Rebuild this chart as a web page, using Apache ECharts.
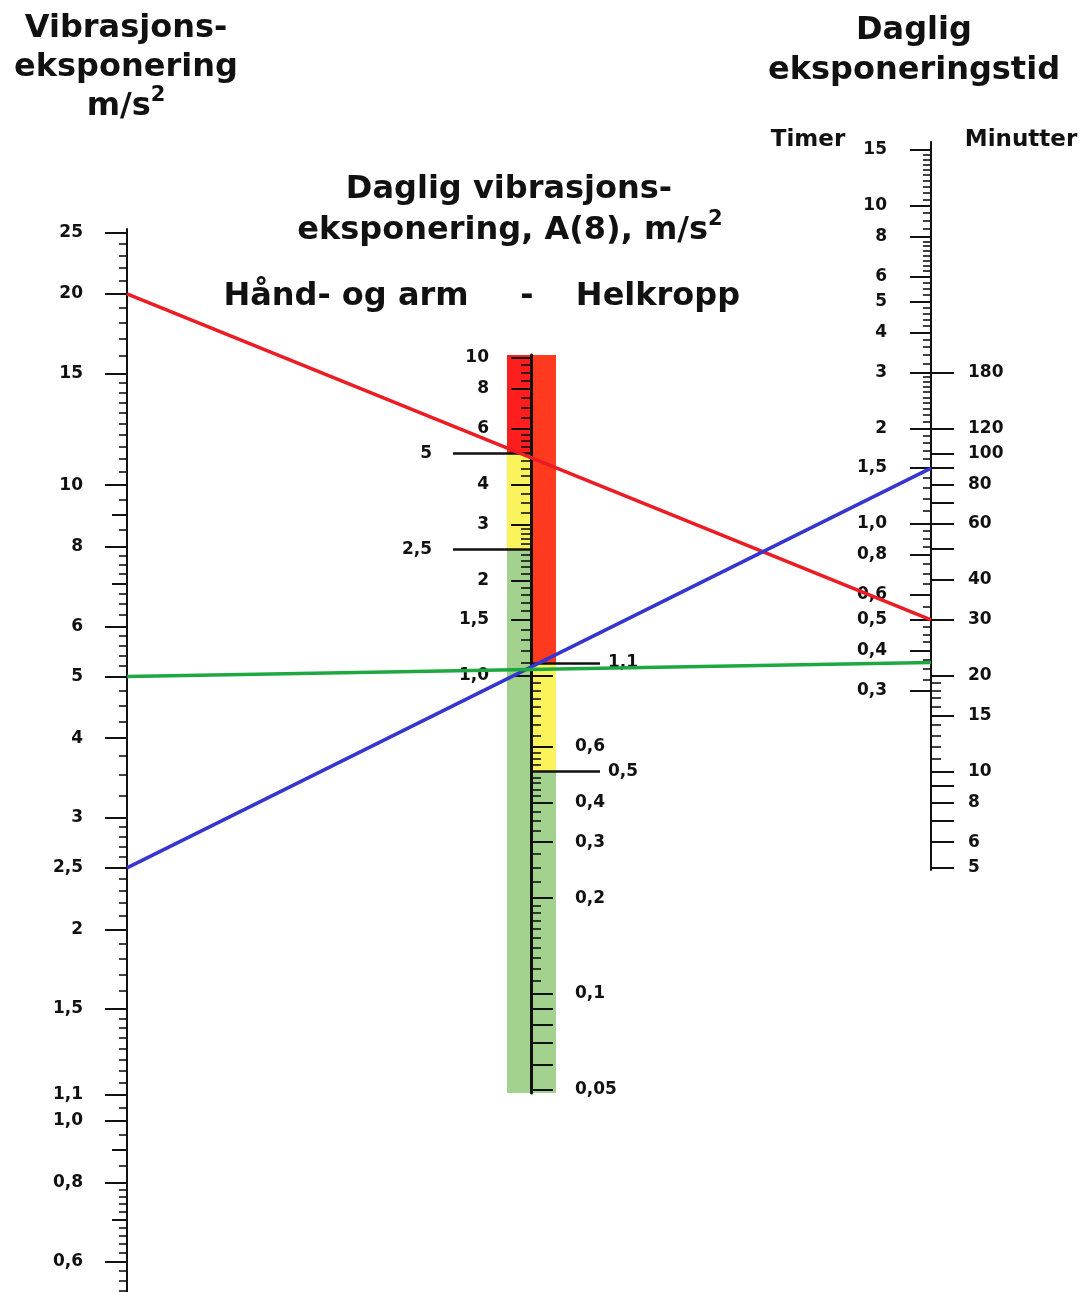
<!DOCTYPE html>
<html>
<head>
<meta charset="utf-8">
<title>Nomogram - vibrasjonseksponering</title>
<script src="https://cdn.jsdelivr.net/npm/echarts@6.0.0/dist/echarts.min.js"></script>
<style>
	html, body { margin: 0; padding: 0; background: #fff; }
	#main { width: 1081px; height: 1292px; }
</style>
</head>
<body>
<div id="main"></div>
<script>
// venstre skala: vibrasjonseksponering, m/s2
var leftTicks = [25, 20, 15, 10, 8, 6, 5, 4, 3, 2.5, 2, 1.5, 1.1, 1.0, 0.8, 0.6];
var leftLabels = ['25', '20', '15', '10', '8', '6', '5', '4', '3', '2,5', '2', '1,5', '1,1', '1,0', '0,8', '0,6'];
var leftMid = [9, 7, 0.9, 0.7];
var leftMinor = [24, 23, 22, 21, 19, 18, 17, 16, 14.5, 14, 13.5, 13, 12.5, 12, 11.5, 11, 10.5, 9.5, 8.5,
	7.75, 7.5, 7.25, 6.75, 6.5, 6.25, 5.8, 5.6, 5.4, 5.2, 4.75, 4.5, 4.25, 3.75, 3.5, 3.25,
	2.9, 2.8, 2.7, 2.6, 2.4, 2.3, 2.2, 2.1, 1.9, 1.8, 1.7, 1.6, 1.45, 1.4, 1.35, 1.3, 1.25, 1.2, 1.15,
	1.05, 0.95, 0.85, 0.78, 0.76, 0.74, 0.72, 0.68, 0.66, 0.64, 0.62, 0.58, 0.56, 0.54];
var leftRange = [0.538, 25.3];

// midtre skala: daglig vibrasjonseksponering A(8)
var midLeftTicks = [10, 8, 6, 4, 3, 2, 1.5, 1.0];
var midLeftLabels = ['10', '8', '6', '4', '3', '2', '1,5', '1,0'];
var midLeftLong = [5, 2.5];
var midLeftLongLabels = ['5', '2,5'];
var midLeftMinor = [9.5, 9, 8.5, 7.5, 7, 6.5, 5.75, 5.5, 5.25, 4.75, 4.5, 4.25, 3.75, 3.5, 3.25,
	2.9, 2.8, 2.7, 2.6, 2.4, 2.3, 2.2, 2.1, 1.9, 1.8, 1.7, 1.6, 1.4, 1.3, 1.2, 1.1, 1.05];
var midRightTicks = [1.0, 0.6, 0.4, 0.3, 0.2, 0.1, 0.09, 0.08, 0.07, 0.06, 0.05];
var midRightLabelValues = [0.6, 0.4, 0.3, 0.2, 0.1, 0.05];
var midRightLabels = ['0,6', '0,4', '0,3', '0,2', '0,1', '0,05'];
var midRightLong = [1.1, 0.5];
var midRightLongLabels = ['1,1', '0,5'];
var midRightMinor = [1.05, 0.95, 0.9, 0.85, 0.8, 0.75, 0.7, 0.65, 0.575, 0.55, 0.525, 0.48, 0.46, 0.44, 0.42,
	0.375, 0.35, 0.325, 0.275, 0.25, 0.225, 0.19, 0.18, 0.17, 0.16, 0.15, 0.14, 0.13, 0.12, 0.11];
var midRange = [0.0488, 10.22];

// tiltaksverdi og grenseverdi
var handArmLimits = [2.5, 5];
var wholeBodyLimits = [0.5, 1.1];

// høyre skala: daglig eksponeringstid
var hourTicks = [15, 10, 8, 6, 5, 4, 3, 2, 1.5, 1.0, 0.8, 0.6, 0.5, 0.4, 0.3];
var hourLabels = ['15', '10', '8', '6', '5', '4', '3', '2', '1,5', '1,0', '0,8', '0,6', '0,5', '0,4', '0,3'];
var hourMinor = [14.5, 14, 13.5, 13, 12.5, 12, 11.5, 11, 10.5, 9.5, 9, 8.5, 7.75, 7.5, 7.25, 7, 6.75, 6.5, 6.25,
	5.75, 5.5, 5.25, 4.8, 4.6, 4.4, 4.2, 3.8, 3.6, 3.4, 3.2, 2.9, 2.8, 2.7, 2.6, 2.5, 2.4, 2.3, 2.2, 2.1,
	1.9, 1.8, 1.7, 1.6, 1.4, 1.3, 1.2, 1.1, 0.95, 0.9, 0.85, 0.75, 0.7, 0.65, 0.55, 0.475, 0.45, 0.425,
	0.375, 0.35, 0.325];
var minuteTicks = [180, 120, 100, 90, 80, 70, 60, 50, 40, 30, 20, 15, 10, 9, 8, 7, 6, 5];
var minuteLabelValues = [180, 120, 100, 80, 60, 40, 30, 20, 15, 10, 8, 6, 5];
var minuteMinor = [19, 18, 17, 16, 14, 13, 12, 11];
var hourRange = [0.0817, 15.9];

// eksempellinjer: m/s2 på venstre skala -> timer på høyre skala
var lineStart = [20, 2.5, 5];
var lineEnd = [0.5, 1.5, 0.367];

var INK = '#111';
var LINE_COLORS = ['#ec1c24', '#3535cf', '#1ea842'];
var BAND_COLORS = [
	['#a3d28f', '#fbf35c', '#ff1e1e'],
	['#a3d28f', '#fbf35c', '#ff3a1f']
];
var lg = Math.log10;

function labelFor(values, labels) {
	return function (val) {
		for (var i = 0; i < values.length; i++) {
			if (Math.abs(lg(values[i]) - val) < 1e-6) return labels[i];
		}
		return '';
	};
}

function scaleAxis(o) {
	var axis = {
		type: 'value',
		gridIndex: o.grid,
		position: o.pos,
		min: lg(o.range[0]),
		max: lg(o.range[1]),
		z: 3,
		axisLine: { show: !!o.line, onZero: false, lineStyle: { color: INK, width: o.line || 2 } },
		axisTick: {
			show: true, inside: false, length: o.len,
			customValues: o.ticks.map(lg),
			lineStyle: { color: INK, width: o.w || 2 }
		},
		axisLabel: { show: false },
		splitLine: { show: false }
	};
	if (o.labels) {
		axis.axisLabel = {
			show: true,
			margin: o.margin,
			customValues: o.labelValues.map(lg),
			formatter: labelFor(o.labelValues, o.labels),
			color: INK,
			fontFamily: 'DejaVu Sans',
			fontWeight: 'bold',
			fontSize: 17
		};
	}
	return axis;
}

var toHours = function (m) { return m / 60; };

var yAxes = [
	// venstre skala (grid 0)
	scaleAxis({ grid: 0, pos: 'left', range: leftRange, ticks: leftTicks, len: 22, line: 2,
		labelValues: leftTicks, labels: leftLabels, margin: 44 }),
	scaleAxis({ grid: 0, pos: 'left', range: leftRange, ticks: leftMid, len: 15 }),
	scaleAxis({ grid: 0, pos: 'left', range: leftRange, ticks: leftMinor, len: 8, w: 1.6 }),
	// midtre skala (grid 1)
	scaleAxis({ grid: 1, pos: 'left', range: midRange, ticks: midLeftTicks, len: 20, line: 3,
		labelValues: midLeftTicks, labels: midLeftLabels, margin: 42 }),
	scaleAxis({ grid: 1, pos: 'left', range: midRange, ticks: midLeftLong, len: 78, w: 2.5,
		labelValues: midLeftLong, labels: midLeftLongLabels, margin: 99 }),
	scaleAxis({ grid: 1, pos: 'left', range: midRange, ticks: midLeftMinor, len: 10, w: 1.6 }),
	scaleAxis({ grid: 1, pos: 'right', range: midRange, ticks: midRightTicks, len: 21,
		labelValues: midRightLabelValues, labels: midRightLabels, margin: 43 }),
	scaleAxis({ grid: 1, pos: 'right', range: midRange, ticks: midRightLong, len: 68, w: 2.5,
		labelValues: midRightLong, labels: midRightLongLabels, margin: 76 }),
	scaleAxis({ grid: 1, pos: 'right', range: midRange, ticks: midRightMinor, len: 9, w: 1.6 }),
	// høyre skala (grid 2)
	scaleAxis({ grid: 2, pos: 'left', range: hourRange, ticks: hourTicks, len: 21, line: 2,
		labelValues: hourTicks, labels: hourLabels, margin: 44 }),
	scaleAxis({ grid: 2, pos: 'left', range: hourRange, ticks: hourMinor, len: 8, w: 1.6 }),
	scaleAxis({ grid: 2, pos: 'right', range: hourRange, ticks: minuteTicks.map(toHours), len: 22,
		labelValues: minuteLabelValues.map(toHours), labels: minuteLabelValues.map(String), margin: 36 }),
	scaleAxis({ grid: 2, pos: 'right', range: hourRange, ticks: minuteMinor.map(toHours), len: 9, w: 1.6 }),
	// fargefelt (grid 3)
	{ type: 'value', gridIndex: 3, min: lg(midRange[0]), max: lg(midRange[1]), show: false }
];
var BAND_Y = yAxes.length - 1;

function bandsFor(side, limits) {
	return [
		[side, lg(midRange[0]), lg(limits[0]), 0],
		[side, lg(limits[0]), lg(limits[1]), 1],
		[side, lg(limits[1]), lg(midRange[1]), 2]
	];
}
var bandData = bandsFor(0, handArmLimits).concat(bandsFor(1, wholeBodyLimits));

var chart = echarts.init(document.getElementById('main'));

function titleText(text, x, y, size) {
	size = size || 32;
	return {
		type: 'text', x: x, y: y, silent: true,
		style: {
			text: text, fill: INK,
			font: 'bold ' + size + 'px "DejaVu Sans"',
			textAlign: 'center', textVerticalAlign: 'middle',
			rich: {
				sup: { fontSize: 21, fontWeight: 'bold', fontFamily: 'DejaVu Sans', fill: INK, padding: [0, 0, 22, 0] }
			}
		}
	};
}

var option = {
	animation: false,
	backgroundColor: '#fff',
	grid: [
		{ left: 127, top: 229, width: 1, height: 1063, outerBoundsMode: 'none' },
		{ left: 531, top: 355, width: 1, height: 738, outerBoundsMode: 'none' },
		{ left: 931, top: 142, width: 1, height: 728, outerBoundsMode: 'none' },
		{ left: 507, top: 355, width: 49, height: 738, outerBoundsMode: 'none' }
	],
	xAxis: [
		{ type: 'value', gridIndex: 0, min: 0, max: 1, show: false },
		{ type: 'value', gridIndex: 1, min: 0, max: 1, show: false },
		{ type: 'value', gridIndex: 2, min: 0, max: 1, show: false },
		{ type: 'value', gridIndex: 3, min: 0, max: 2, show: false }
	],
	yAxis: yAxes,
	graphic: [
		titleText('Vibrasjons-', 126, 29),
		titleText('eksponering', 126, 68),
		titleText('m/s{sup|2}', 126, 107),
		titleText('Daglig', 914, 31),
		titleText('eksponeringstid', 914, 71),
		titleText('Daglig vibrasjons-', 509, 190),
		titleText('eksponering, A(8), m/s{sup|2}', 510, 231),
		titleText('Hånd- og arm', 346, 297),
		titleText('-', 527, 297),
		titleText('Helkropp', 658, 297),
		titleText('Timer', 808, 140, 23),
		titleText('Minutter', 1021, 140, 23)
	],
	series: [
		{
			type: 'custom',
			name: 'fargefelt',
			xAxisIndex: 3,
			yAxisIndex: BAND_Y,
			z: 1,
			silent: true,
			data: bandData,
			renderItem: function (params, api) {
				var side = api.value(0);
				var p0 = api.coord([side, api.value(2)]);
				var p1 = api.coord([side + 1, api.value(1)]);
				return {
					type: 'rect',
					shape: { x: p0[0], y: p0[1], width: p1[0] - p0[0], height: p1[1] - p0[1] },
					style: { fill: BAND_COLORS[side][api.value(3)] }
				};
			}
		},
		{
			type: 'custom',
			name: 'linjer',
			coordinateSystem: 'none',
			z: 10,
			silent: true,
			data: lineStart.map(function (v, i) { return [v, lineEnd[i], i]; }),
			renderItem: function (params, api) {
				var a = chart.convertToPixel({ gridIndex: 0 }, [0, lg(api.value(0))]);
				var b = chart.convertToPixel({ gridIndex: 2 }, [0, lg(api.value(1))]);
				return {
					type: 'line',
					shape: { x1: a[0], y1: a[1], x2: b[0], y2: b[1] },
					style: { stroke: LINE_COLORS[api.value(2)], lineWidth: 3.5 }
				};
			}
		}
	]
};

chart.setOption(option);
</script>
</body>
</html>
